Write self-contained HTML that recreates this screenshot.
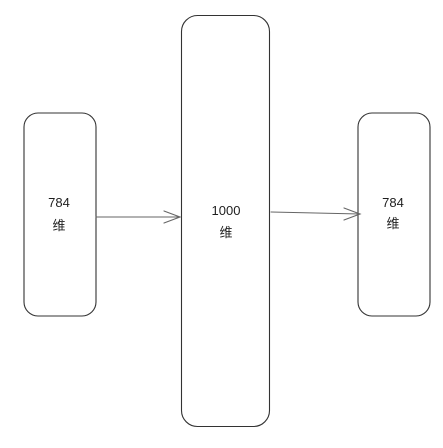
<!DOCTYPE html>
<html><head><meta charset="utf-8"><style>
html,body{margin:0;padding:0;background:#fff;}
svg{display:block}
text{font-family:"Liberation Sans","Noto Sans CJK SC",sans-serif;font-size:13px;fill:#1e1e1e;text-anchor:middle}
</style></head><body>
<svg width="443" height="448" viewBox="0 0 443 448" xmlns="http://www.w3.org/2000/svg">
<g fill="none" stroke="#333" stroke-width="1.1" stroke-linecap="round">
<rect x="24" y="113" width="72" height="203" rx="14"/>
<rect x="181.5" y="15.5" width="88" height="411" rx="16"/>
<rect x="358" y="113" width="72" height="203" rx="14"/>
</g>
<g fill="none" stroke="#666" stroke-width="1.1" stroke-linecap="round">
<path d="M96 217 L180 217"/>
<path d="M164 211 L180 217 L164 223"/>
<path d="M271 212 L360 214"/>
<path d="M344 208 L360 214 L344 220"/>
</g>
<text x="59" y="207">784</text>
<text x="59" y="230">维</text>
<text x="226" y="215">1000</text>
<text x="226" y="237">维</text>
<text x="393" y="207">784</text>
<text x="393" y="228">维</text>
</svg>
</body></html>
